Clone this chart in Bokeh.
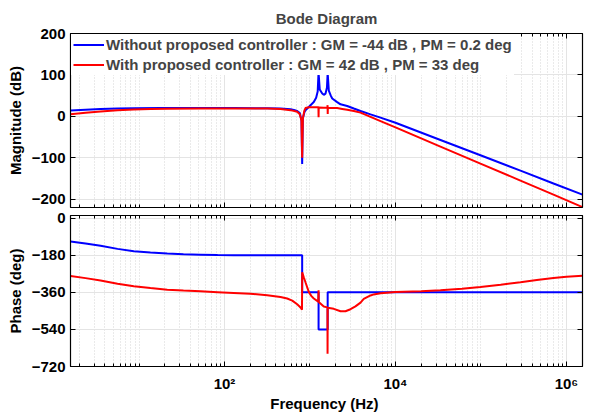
from bokeh.plotting import figure
from bokeh.layouts import column
from bokeh.models import (LogAxis, LinearAxis, FixedTicker, CustomJSTickFormatter,
                          Range1d, Legend, LegendItem)
from bokeh.embed import file_html
from bokeh.resources import INLINE

# ---------------- data ----------------
blue_mag_f = [1.58, 2.37, 3.55, 5.61, 8.69, 17.8, 52.4, 128, 316, 452, 592, 648, 708, 760, 795, 810,
              825, 860, 885, 968, 1107, 1180, 1230, 1255, 1260, 1265, 1300, 1390, 1450,
              1520, 1580, 1605, 1610, 1615, 1660, 1750, 1820, 2080, 2275, 2723, 3257, 3899, 5105, 6683,
              10000, 33570, 98600, 289700, 704700, 1540000]
blue_mag_db = [14, 16, 17.8, 18.8, 19.4, 20, 20, 20, 19.5, 19, 17, 15.5, 13, 8, -10, -115,
               -5, 10, 14.5, 22.5, 34.5, 45, 60, 100, 160, 100, 65, 55, 52,
               55, 70, 100, 160, 100, 62, 50, 43, 34.5, 29, 25, 19, 13, 4.8, -3,
               -15.5, -57, -94, -131, -162, -189]

red_mag_f = [1.58, 2.37, 3.55, 5.61, 8.69, 13.6, 21.4, 52.4, 128, 316, 452, 592, 708, 760, 795, 810,
             825, 860, 885, 968, 1107, 1255, 1260, 1265, 1450, 1600, 1606, 1612, 1618,
             2080, 2382, 2723, 3257, 3899, 5105, 6683, 10000, 33570, 98600, 289700,
             704700, 1540000]
red_mag_db = [5, 8.5, 11.5, 14.5, 16.3, 17.6, 18.5, 19, 19, 19, 18, 15, 11, 5, -10, -100,
              -5, 14, 20, 22, 22, 22, -2, 21.5, 21, 21, 27, 6, 21,
              20, 18, 16, 13, 9, -1.2, -11.4, -26.6, -73, -114, -155,
              -189, -219]

blue_ph_f = [1.58, 2.37, 3.55, 5.61, 8.69, 13.6, 21.4, 33.1, 52.4, 83, 128,
             810, 810, 1260, 1260, 1610, 1610, 1540000]
blue_ph_deg = [-113, -123, -134, -149, -160, -167, -172, -175, -177, -179, -180,
               -180, -360, -360, -540, -540, -360, -360]

red_ph_f = [1.58, 2.37, 3.55, 5.61, 8.69, 13.6, 21.4, 33.1, 52.4, 83, 128, 200, 316, 452,
            541, 620, 708, 760, 789, 806, 811, 846, 885, 925, 968, 1035, 1107, 1247,
            1260, 1266, 1449, 1600, 1605, 1612, 1897, 2275, 2600, 2979, 3400, 3899,
            4256, 5105, 5572, 6683, 10000, 20000, 33570, 60000, 98600, 170000, 289700,
            450000, 704700, 1000000, 1540000]
red_ph_deg = [-281, -291, -303, -318, -330, -339, -347, -351, -355, -359, -363, -367, -374, -383,
              -390, -400, -418, -430, -437, -445, -263, -287, -311, -334, -358, -377, -390, -405,
              -350, -407, -429, -433, -658, -435, -440, -452, -452, -442, -428, -410,
              -392, -375, -370, -364, -358, -355, -350, -343, -334, -323, -311,
              -300, -290, -284, -279]

mag_ticks = [-200, -100, 0, 100, 200]
phase_ticks = [-720, -540, -360, -180, 0]
freq_major = [1, 1e2, 1e4, 1e6]

legend_blue = "Without proposed controller : GM = -44 dB , PM = 0.2 deg"
legend_red = "With proposed controller : GM = 42 dB , PM = 33 deg"

# ---------------- styling ----------------
FONT = "Liberation Sans"
FS = "15px"
BLUE = "#0000ff"
RED = "#ff0000"

freq_minor = [m * 10 ** k for k in range(0, 7) for m in range(1, 10)
              if not (m == 1 and k % 2 == 0)]

x_range = Range1d(1.58, 1.54e6)

sup = CustomJSTickFormatter(code="""
const s = {'0':'\u2070','1':'\u00b9','2':'\u00b2','3':'\u00b3','4':'\u2074','5':'\u2075','6':'\u2076','-':'\u207b'};
const e = Math.round(Math.log10(tick));
return '10' + String(e).split('').map(c => s[c]).join('');
""")
blank = CustomJSTickFormatter(code="return ''")


def style_axis(ax, labels=True, minor=False):
    ax.axis_line_color = "black"
    ax.axis_line_width = 1.2
    ax.major_tick_in = 5
    ax.major_tick_out = 0
    ax.major_tick_line_color = "black"
    if minor:
        ax.minor_tick_in = 3
        ax.minor_tick_out = 0
        ax.minor_tick_line_color = "black"
    else:
        ax.minor_tick_line_color = None
    ax.major_label_text_font = FONT
    ax.major_label_text_font_style = "bold"
    ax.major_label_text_font_size = FS
    ax.major_label_text_color = "black"
    ax.axis_label_text_font = FONT
    ax.axis_label_text_font_style = "bold"
    ax.axis_label_text_font_size = FS
    ax.axis_label_text_color = "black"
    if not labels:
        ax.formatter = blank
        ax.major_label_text_font_size = "0px"
        ax.major_label_standoff = 0


def make_fig(height, btop, bbot, y_range, y_ticks, show_x_labels):
    p = figure(width=597, height=height, x_axis_type="log", x_range=x_range, y_range=y_range,
               output_backend="svg", toolbar_location=None,
               min_border_left=70, min_border_right=15,
               min_border_top=btop, min_border_bottom=bbot)
    p.outline_line_color = "black"
    p.background_fill_color = "white"
    xt = FixedTicker(ticks=freq_major, minor_ticks=freq_minor)
    yt = FixedTicker(ticks=y_ticks)
    xax = p.xaxis[0]
    yax = p.yaxis[0]
    xax.ticker = xt
    yax.ticker = yt
    style_axis(xax, labels=show_x_labels, minor=True)
    if show_x_labels:
        xax.formatter = sup
        xax.major_label_standoff = 8
        xax.axis_label_standoff = 0
        xax.major_label_text_line_height = 1.0
        xax.axis_label_text_line_height = 1.0
    style_axis(yax, labels=True)
    yax.major_label_standoff = 5
    top = LogAxis(ticker=xt)
    style_axis(top, labels=False, minor=True)
    right = LinearAxis(ticker=yt)
    style_axis(right, labels=False)
    p.add_layout(top, "above")
    p.add_layout(right, "right")
    p.xgrid.ticker = xt
    p.ygrid.ticker = yt
    p.xgrid.grid_line_color = "#e4e4e4"
    p.xgrid.minor_grid_line_color = "#d4d4d4"
    p.xgrid.minor_grid_line_dash = "1 2"
    p.ygrid.grid_line_color = "#e4e4e4"
    return p, xax, yax


p1, p1x, p1y = make_fig(208, 33, 1, Range1d(-220, 200), mag_ticks, False)
p1y.axis_label = "Magnitude (dB)"
p1.title.text = "Bode Diagram"
p1.title.align = "center"
p1.title.text_font = FONT
p1.title.text_font_style = "bold"
p1.title.text_font_size = FS
p1.title.standoff = 13

rb = p1.line(blue_mag_f, blue_mag_db, color=BLUE, line_width=2)
rr = p1.line(red_mag_f, red_mag_db, color=RED, line_width=2)

legend = Legend(items=[LegendItem(label=legend_blue, renderers=[rb]),
                       LegendItem(label=legend_red, renderers=[rr])],
                location="top_left", margin=1, padding=2, spacing=3,
                label_height=15, glyph_height=15, glyph_width=31, label_standoff=2,
                label_text_font=FONT, label_text_font_style="bold",
                label_text_font_size=FS, background_fill_color="white",
                background_fill_alpha=1, border_line_alpha=0)
p1.add_layout(legend)

p2, p2x, p2y = make_fig(206, 7, 44, Range1d(-720, 13), phase_ticks, True)
p2y.axis_label = "Phase (deg)"
p2x.axis_label = "Frequency  (Hz)"
p2.line(blue_ph_f, blue_ph_deg, color=BLUE, line_width=2)
p2.line(red_ph_f, red_ph_deg, color=RED, line_width=2)

layout = column(p1, p2, spacing=0)
open("out.html", "w").write(file_html(layout, INLINE))
